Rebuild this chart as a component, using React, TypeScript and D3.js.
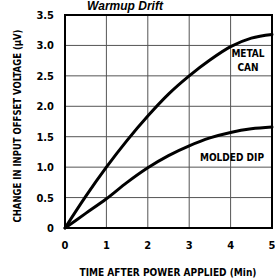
import React, { useEffect, useRef } from "react";
import * as d3 from "d3";

const timeMin = [0, 0.5, 1, 1.5, 2, 2.5, 3, 3.5, 4, 4.5, 5];
const metalCan = [0, 0.52, 1.0, 1.44, 1.84, 2.2, 2.5, 2.76, 2.98, 3.12, 3.18];
const moldedDip = [0, 0.24, 0.48, 0.75, 0.99, 1.19, 1.35, 1.48, 1.57, 1.63, 1.66];
const xTicks = [0, 1, 2, 3, 4, 5];
const yTicks = [0, 0.5, 1, 1.5, 2, 2.5, 3, 3.5];

const FONT = "'Liberation Sans Narrow', 'DejaVu Sans Condensed', 'Arial Narrow', sans-serif";

const App: React.FC = () => {
  const svgRef = useRef<SVGSVGElement>(null);

  useEffect(() => {
    if (!svgRef.current) return;
    const svg = d3.select(svgRef.current);
    svg.selectAll("*").remove();

    const margin = { top: 15, left: 65, right: 3, bottom: 50 };
    const width = 275;
    const height = 278;

    const x = d3.scaleLinear().domain([0, 5]).range([margin.left, width - margin.right]);
    const y = d3.scaleLinear().domain([0, 3.5]).range([height - margin.bottom, margin.top]);

    // title (sits right at the top edge)
    svg
      .append("text")
      .attr("x", 125)
      .attr("y", 10)
      .attr("text-anchor", "middle")
      .style("font-family", "'Liberation Sans', Arial, sans-serif")
      .style("font-weight", "bold")
      .style("font-style", "italic")
      .style("font-size", "12px")
      .text("Warmup Drift");

    // grid
    const grid = svg.append("g").attr("stroke", "#555").attr("stroke-width", 1);
    xTicks.slice(1, -1).forEach((t) => {
      grid
        .append("line")
        .attr("x1", x(t))
        .attr("x2", x(t))
        .attr("y1", y(3.5))
        .attr("y2", y(0));
    });
    yTicks.slice(1, -1).forEach((t) => {
      grid
        .append("line")
        .attr("x1", x(0))
        .attr("x2", x(5))
        .attr("y1", y(t))
        .attr("y2", y(t));
    });

    // frame
    svg
      .append("rect")
      .attr("x", x(0))
      .attr("y", y(3.5))
      .attr("width", x(5) - x(0))
      .attr("height", y(0) - y(3.5))
      .attr("fill", "none")
      .attr("stroke", "#000")
      .attr("stroke-width", 2);

    // tick labels
    svg
      .append("g")
      .selectAll("text")
      .data(yTicks)
      .join("text")
      .attr("x", 54)
      .attr("y", (d) => y(d) + 4)
      .attr("text-anchor", "end")
      .style("font-family", FONT)
      .style("font-weight", "bold")
      .style("font-size", "11px")
      .text((d) => (d === 0 ? "0" : d.toFixed(1)));

    svg
      .append("g")
      .selectAll("text")
      .data(xTicks)
      .join("text")
      .attr("x", (d) => x(d))
      .attr("y", 249)
      .attr("text-anchor", "middle")
      .style("font-family", FONT)
      .style("font-weight", "bold")
      .style("font-size", "11px")
      .text((d) => String(d));

    // axis titles
    svg
      .append("text")
      .attr("x", 168)
      .attr("y", 276)
      .attr("text-anchor", "middle")
      .attr("textLength", 177)
      .attr("lengthAdjust", "spacingAndGlyphs")
      .style("font-family", FONT)
      .style("font-weight", "bold")
      .style("font-size", "11px")
      .text("TIME AFTER POWER APPLIED (Min)");

    svg
      .append("text")
      .attr("transform", "translate(21,126) rotate(-90)")
      .attr("text-anchor", "middle")
      .attr("textLength", 193)
      .attr("lengthAdjust", "spacingAndGlyphs")
      .style("font-family", FONT)
      .style("font-weight", "bold")
      .style("font-size", "10px")
      .text("CHANGE IN INPUT OFFSET VOLTAGE (\u03bcV)");

    // curves
    const line = d3
      .line<number>()
      .x((_, i) => x(timeMin[i]))
      .y((d) => y(d))
      .curve(d3.curveMonotoneX);

    [metalCan, moldedDip].forEach((series) => {
      svg
        .append("path")
        .datum(series)
        .attr("d", line)
        .attr("fill", "none")
        .attr("stroke", "#000")
        .attr("stroke-width", 3)
        .attr("stroke-linecap", "round");
    });

    // annotations
    const note = (txt: string, cx: number, cy: number) =>
      svg
        .append("text")
        .attr("x", cx)
        .attr("y", cy)
        .attr("text-anchor", "middle")
        .style("font-family", FONT)
        .style("font-weight", "bold")
        .style("font-size", "10px")
        .text(txt);
    note("METAL", 248, 57);
    note("CAN", 248, 71);
    note("MOLDED DIP", 232, 161);
  }, []);

  return (
    <svg
      ref={svgRef}
      width={275}
      height={278}
      style={{ position: "absolute", left: 0, top: 0, background: "#fff" }}
    />
  );
};

export default App;
